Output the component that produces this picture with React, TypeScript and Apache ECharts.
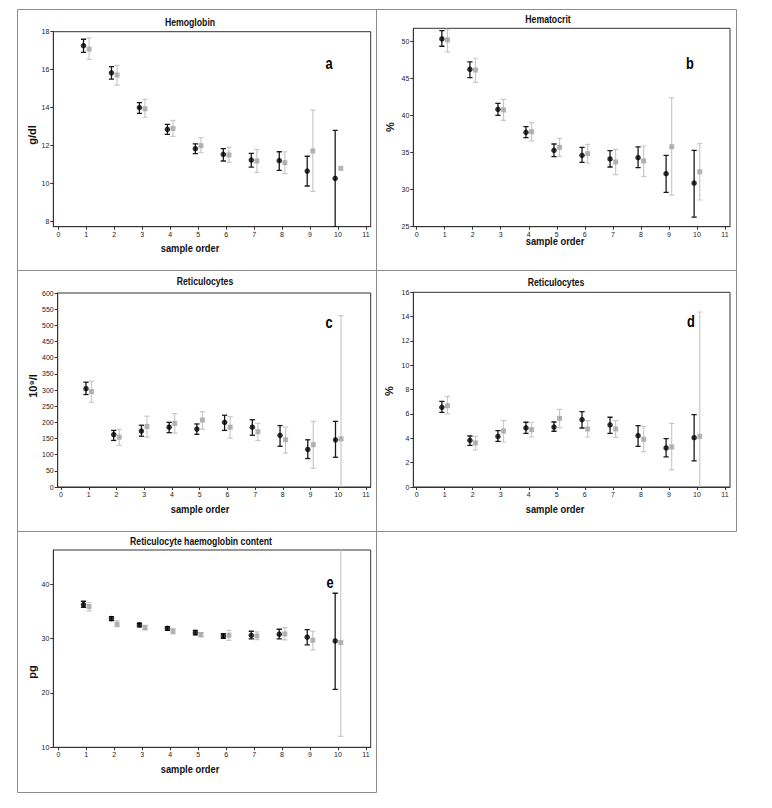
import React, { useEffect, useRef } from "react";
import * as echarts from "echarts";

// sample order 1..10 ; each entry: [mean, lower, upper]
const samples = [1, 2, 3, 4, 5, 6, 7, 8, 9, 10];
const tickLabelsX = [0, 1, 2, 3, 4, 5, 6, 7, 8, 9, 10, 11];

// Panel a – Hemoglobin (g/dl)
const hbBlack = [[17.26, 16.91, 17.6], [15.83, 15.5, 16.15], [13.99, 13.69, 14.25], [12.84, 12.58, 13.1], [11.82, 11.56, 12.08], [11.52, 11.17, 11.82], [11.22, 10.85, 11.57], [11.19, 10.68, 11.66], [10.64, 9.85, 11.42], [10.25, 7.7, 12.79]];
const hbGrey = [[17.08, 16.54, 17.67], [15.71, 15.18, 16.22], [13.93, 13.48, 14.43], [12.89, 12.47, 13.32], [11.98, 11.61, 12.4], [11.49, 11.1, 11.89], [11.17, 10.57, 11.77], [11.08, 10.5, 11.66], [11.7, 9.57, 13.86], [10.78, null, null]];
const hbTicks = [8, 10, 12, 14, 16, 18];

// Panel b – Hematocrit (%)
const hctBlack = [[50.31, 49.33, 51.44], [46.22, 45.1, 47.21], [40.83, 40.02, 41.64], [37.72, 37.0, 38.49], [35.3, 34.44, 36.15], [34.62, 33.68, 35.7], [34.13, 33.05, 35.25], [34.31, 32.96, 35.75], [32.15, 29.63, 34.62], [30.89, 26.3, 35.3]];
const hctGrey = [[50.18, 48.56, 51.62], [46.13, 44.47, 47.71], [40.74, 39.34, 42.18], [37.81, 36.56, 39.03], [35.7, 34.49, 36.92], [34.85, 33.59, 36.11], [33.72, 32.01, 35.43], [33.86, 31.79, 35.88], [35.79, 29.27, 42.36], [32.4, 28.6, 36.2]];
const hctTicks = [25, 30, 35, 40, 45, 50];

// Panel c – Reticulocytes (10^9/l)
const retAbsBlack = [[304, 286, 324], [162, 144, 175], [173, 157, 191], [185, 168, 200], [179, 163, 195], [200, 175, 222], [185, 160, 208], [160, 126, 190], [116, 88, 146], [146, 92, 203]];
const retAbsGrey = [[295, 262, 327], [154, 129, 178], [187, 154, 219], [197, 167, 227], [207, 179, 233], [185, 151, 218], [171, 144, 197], [146, 105, 185], [131, 58, 203], [149, -232, 530]];
const retAbsTicks = [0, 50, 100, 150, 200, 250, 300, 350, 400, 450, 500, 550, 600];

// Panel d – Reticulocytes (%)
const retPctBlack = [[6.55, 6.14, 7.04], [3.84, 3.42, 4.19], [4.16, 3.75, 4.63], [4.85, 4.41, 5.32], [4.93, 4.58, 5.34], [5.53, 4.85, 6.19], [5.1, 4.41, 5.73], [4.22, 3.34, 5.04], [3.21, 2.47, 3.97], [4.05, 2.14, 5.95]];
const retPctGrey = [[6.68, 6.0, 7.45], [3.62, 3.04, 4.16], [4.6, 3.7, 5.45], [4.71, 4.11, 5.32], [5.64, 4.88, 6.38], [4.77, 4.11, 5.45], [4.77, 4.08, 5.45], [3.92, 2.9, 4.96], [3.29, 1.4, 5.23], [4.16, -6.05, 14.38]];
const retPctTicks = [0, 2, 4, 6, 8, 10, 12, 14, 16];

// Panel e – Reticulocyte haemoglobin content (pg)
const chrBlack = [[36.26, 35.77, 36.87], [33.68, 33.31, 34.05], [32.52, 32.15, 32.82], [31.9, 31.53, 32.2], [31.1, 30.67, 31.53], [30.49, 30.06, 30.92], [30.61, 29.94, 31.35], [30.8, 29.94, 31.72], [30.25, 28.83, 31.66], [29.57, 20.67, 38.34]];
const chrGrey = [[35.89, 35.09, 36.69], [32.64, 32.21, 33.31], [32.02, 31.6, 32.45], [31.35, 30.86, 31.84], [30.74, 30.31, 31.1], [30.61, 29.69, 31.53], [30.49, 29.82, 31.23], [30.86, 29.76, 32.02], [29.69, 27.91, 31.35], [29.26, 12.02, 46.5]];
const chrTicks = [10, 20, 30, 40];

const panels = [
  { title: "Hemoglobin", unit: "g/dl", letter: "a", black: hbBlack, grey: hbGrey, ticks: hbTicks, ymin: 7.7, ymax: 18,
    grid: { left: 53.3, top: 31.7, width: 317.4, height: 195 }, xr: [-0.18, 11.17],
    titlePos: [190, 23], xnamePos: [190, 248], ynamePos: [32, 135], letterPos: [329, 63] },
  { title: "Hematocrit", unit: "%", letter: "b", black: hctBlack, grey: hctGrey, ticks: hctTicks, ymin: 25, ymax: 51.75,
    grid: { left: 413.3, top: 28.3, width: 316.7, height: 198.4 }, xr: [-0.12, 11.18],
    titlePos: [548, 20], xnamePos: [555, 241], ynamePos: [390, 127], letterPos: [690, 63] },
  { title: "Reticulocytes", unit: "10⁹/l", letter: "c", black: retAbsBlack, grey: retAbsGrey, ticks: retAbsTicks, ymin: 0, ymax: 600,
    grid: { left: 57.7, top: 293, width: 313, height: 194 }, xr: [-0.12, 11.17],
    titlePos: [205, 282], xnamePos: [200, 509], ynamePos: [33, 386], letterPos: [329, 322] },
  { title: "Reticulocytes", unit: "%", letter: "d", black: retPctBlack, grey: retPctGrey, ticks: retPctTicks, ymin: 0, ymax: 16,
    grid: { left: 413.3, top: 292.3, width: 316.7, height: 194.7 }, xr: [-0.12, 11.18],
    titlePos: [556, 283], xnamePos: [555, 509], ynamePos: [389, 391], letterPos: [691, 321] },
  { title: "Reticulocyte haemoglobin content", unit: "pg", letter: "e", black: chrBlack, grey: chrGrey, ticks: chrTicks, ymin: 10, ymax: 46.3,
    grid: { left: 53.3, top: 550, width: 317.4, height: 197.3 }, xr: [-0.18, 11.17],
    titlePos: [201, 542], xnamePos: [190, 769], ynamePos: [32, 672], letterPos: [330, 582] },
];

const boxes = [
  [17, 9, 359, 261],
  [376, 9, 360, 261],
  [17, 270, 359, 261],
  [376, 270, 360, 261],
  [17, 531, 359, 261],
];

const FONT = "'Liberation Sans', Arial, sans-serif";

function makeErrRender(color: string, width: number) {
  return (params: any, api: any) => {
    const x = api.value(0);
    const lo = api.value(1);
    const hi = api.value(2);
    const pLo = api.coord([x, lo]);
    const pHi = api.coord([x, hi]);
    const hw = 2.6;
    const style = { stroke: color, lineWidth: width, fill: "none" };
    return {
      type: "group",
      children: [
        { type: "line", shape: { x1: pLo[0], y1: pLo[1], x2: pHi[0], y2: pHi[1] }, style },
        { type: "line", shape: { x1: pLo[0] - hw, y1: pLo[1], x2: pLo[0] + hw, y2: pLo[1] }, style },
        { type: "line", shape: { x1: pHi[0] - hw, y1: pHi[1], x2: pHi[0] + hw, y2: pHi[1] }, style },
      ],
    };
  };
}

export default function App() {
  const ref = useRef<HTMLDivElement>(null);
  useEffect(() => {
    if (!ref.current) return;
    const chart = echarts.init(ref.current, null, { renderer: "svg" });
    const grids: any[] = [];
    const xAxes: any[] = [];
    const yAxes: any[] = [];
    const series: any[] = [];
    const graphics: any[] = [];

    boxes.forEach(([x, y, w, h]) => {
      graphics.push({
        type: "rect",
        shape: { x: x + 0.5, y: y + 0.5, width: w, height: h },
        style: { fill: "none", stroke: "#8c8c8c", lineWidth: 1 },
        z: 0,
      });
    });

    panels.forEach((p, i) => {
      grids.push({ ...p.grid, show: true, borderColor: "#333", borderWidth: 1, backgroundColor: "transparent" });
      xAxes.push({
        type: "value", gridIndex: i, min: p.xr[0], max: p.xr[1],
        axisLine: { show: true, onZero: false, lineStyle: { color: "#333", width: 1 } },
        axisTick: { show: true, length: 3, customValues: tickLabelsX, lineStyle: { color: "#333" } },
        axisLabel: { show: true, customValues: tickLabelsX, fontSize: 7, color: "#222", fontFamily: FONT, margin: 4, formatter: (v: number) => String(v) },
        splitLine: { show: false },
      });
      yAxes.push({
        type: "value", gridIndex: i, min: p.ymin, max: p.ymax,
        axisLine: { show: true, onZero: false, lineStyle: { color: "#333", width: 1 } },
        axisTick: { show: true, length: 3, customValues: p.ticks, lineStyle: { color: "#333" } },
        axisLabel: { show: true, customValues: p.ticks, fontSize: 7, color: "#222", fontFamily: FONT, margin: 4, formatter: (v: number) => String(v) },
        splitLine: { show: false },
      });

      const greyErr = p.grey
        .map((d, k) => (d[1] == null ? null : [samples[k] + 0.1, d[1], d[2]]))
        .filter((d) => d !== null);
      const blackErr = p.black.map((d, k) => [samples[k] - 0.1, d[1], d[2]]);

      series.push({
        type: "custom", xAxisIndex: i, yAxisIndex: i, clip: true,
        renderItem: makeErrRender("#c9c9c9", 1.2), data: greyErr, z: 2,
        encode: { x: 0, y: [1, 2] },
      });
      series.push({
        type: "custom", xAxisIndex: i, yAxisIndex: i, clip: true,
        renderItem: makeErrRender("#1a1a1a", 1.3), data: blackErr, z: 3,
        encode: { x: 0, y: [1, 2] },
      });
      series.push({
        type: "scatter", xAxisIndex: i, yAxisIndex: i, symbol: "rect", symbolSize: 5,
        itemStyle: { color: "#a3a3a3" }, data: p.grey.map((d, k) => [samples[k] + 0.1, d[0]]), z: 4,
      });
      series.push({
        type: "scatter", xAxisIndex: i, yAxisIndex: i, symbol: "circle", symbolSize: 5.5,
        itemStyle: { color: "#000" }, data: p.black.map((d, k) => [samples[k] - 0.1, d[0]]), z: 5,
      });

      graphics.push({
        type: "text", x: p.titlePos[0], y: p.titlePos[1], scaleX: 0.87,
        style: { text: p.title, font: `bold 10px ${FONT}`, fill: "#111", textAlign: "center", textVerticalAlign: "middle" },
      });
      graphics.push({
        type: "text", x: p.xnamePos[0], y: p.xnamePos[1], scaleX: 0.85,
        style: { text: "sample order", font: `bold 11px ${FONT}`, fill: "#111", textAlign: "center", textVerticalAlign: "middle" },
      });
      graphics.push({
        type: "text", x: p.ynamePos[0], y: p.ynamePos[1], rotation: Math.PI / 2,
        style: { text: p.unit, font: `bold 11px ${FONT}`, fill: "#111", textAlign: "center", textVerticalAlign: "middle" },
      });
      graphics.push({
        type: "text", x: p.letterPos[0], y: p.letterPos[1], scaleX: 0.8,
        style: { text: p.letter, font: `bold 16px ${FONT}`, fill: "#000", textAlign: "center", textVerticalAlign: "middle" },
      });
    });

    chart.setOption({
      animation: false,
      backgroundColor: "#fff",
      grid: grids,
      xAxis: xAxes,
      yAxis: yAxes,
      series,
      graphic: { elements: graphics },
    });
    return () => chart.dispose();
  }, []);
  return (
    <div
      ref={ref}
      style={{ position: "absolute", left: 0, top: 0, width: 772, height: 808 }}
    />
  );
}
